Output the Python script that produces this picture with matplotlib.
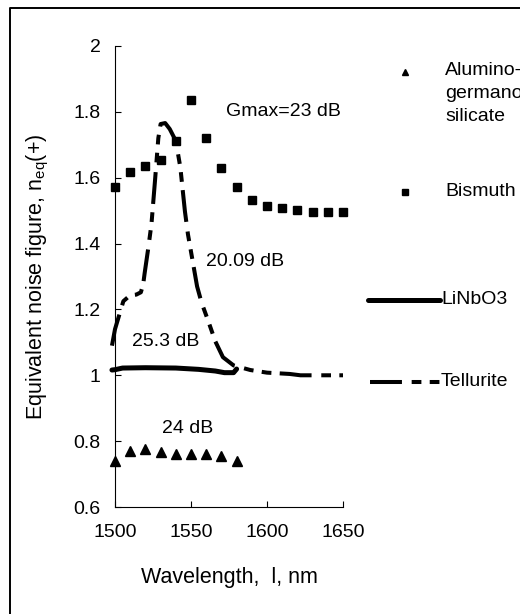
import matplotlib
matplotlib.use("Agg")
from matplotlib import pyplot as plt
from matplotlib.lines import Line2D
import numpy as np

plt.rcParams['font.family'] = ['Liberation Sans', 'DejaVu Sans']
plt.rcParams['mathtext.fontset'] = 'custom'
plt.rcParams['mathtext.rm'] = 'Liberation Sans'
plt.rcParams['lines.scale_dashes'] = False

# Alumino-germano-silicate (triangles)
alu_x = [1500, 1510, 1520, 1530, 1540, 1550, 1560, 1570, 1580]
alu_y = [0.741, 0.771, 0.777, 0.766, 0.760, 0.760, 0.760, 0.754, 0.741]

# Bismuth (squares)
bi_x = [1500, 1510, 1520, 1530, 1540, 1550, 1560, 1570, 1580, 1590,
        1600, 1610, 1620, 1630, 1640, 1650]
bi_y = [1.572, 1.617, 1.636, 1.653, 1.710, 1.837, 1.721, 1.629, 1.573, 1.531,
        1.514, 1.508, 1.501, 1.497, 1.497, 1.497]

# LiNbO3 (solid)
li_x = [1498, 1500, 1505, 1520, 1540, 1555, 1566, 1572, 1578, 1580]
li_y = [1.016, 1.017, 1.022, 1.023, 1.022, 1.018, 1.013, 1.008, 1.008, 1.019]

# Tellurite (dash-dot-dot)
te_x = [1498, 1500, 1505.5, 1510, 1514, 1517, 1518.5, 1519.5, 1522, 1524,
        1526.3, 1528.5, 1530, 1533, 1536, 1540, 1543, 1546, 1548, 1551.5,
        1554, 1557, 1561.4, 1566, 1571, 1578, 1589, 1600, 1615, 1622, 1650]
te_y = [1.09, 1.14, 1.225, 1.243, 1.245, 1.252, 1.275, 1.31, 1.39, 1.46,
        1.59, 1.72, 1.763, 1.766, 1.748, 1.712, 1.631, 1.498, 1.428, 1.336,
        1.27, 1.22, 1.164, 1.103, 1.055, 1.03, 1.016, 1.008, 1.004, 1.0, 1.0]

notes = ['Gmax=23 dB', '20.09 dB', '25.3 dB', '24 dB']
note_x = [1573, 1560, 1511, 1531]
note_y = [1.80, 1.346, 1.103, 0.838]

W, H = 520, 614
fig = plt.figure(figsize=(W / 100, H / 100), dpi=100)
ax = fig.add_axes([115 / W, 1 - 507 / H, 228 / W, 461 / H])

te_dash = (0, (23, 7, 7, 6, 7, 6))
ax.plot(te_x, te_y, color='k', lw=2.9, linestyle=te_dash, clip_on=False)
ax.plot(li_x, li_y, color='k', lw=3.6, solid_capstyle='round', clip_on=False)
ax.plot(bi_x, bi_y, 's', color='k', ms=5.5, clip_on=False)
ax.plot(alu_x, alu_y, '^', color='k', ms=6.5, clip_on=False)

for t, x, y in zip(notes, note_x, note_y):
    ax.text(x, y, t, fontsize=14, ha='left', va='center')

ax.set_xlim(1500, 1650)
ax.set_ylim(0.6, 2.0)
ax.set_xticks([1500, 1550, 1600, 1650])
ax.set_yticks([0.6, 0.8, 1.0, 1.2, 1.4, 1.6, 1.8, 2.0])
ax.set_yticklabels(['0.6', '0.8', '1', '1.2', '1.4', '1.6', '1.8', '2'])
ax.spines['top'].set_visible(False)
ax.spines['right'].set_visible(False)
for s in ('left', 'bottom'):
    ax.spines[s].set_linewidth(0.8)
ax.tick_params(axis='both', direction='in', length=4, width=0.8, labelsize=14)
ax.tick_params(axis='y', pad=10.5)
ax.tick_params(axis='x', pad=12)

ax.set_xlabel('Wavelength,  l, nm', fontsize=15.5)
ax.xaxis.set_label_coords(0.5, -0.152)
ax.xaxis.label.set_va('center')
ax.set_ylabel(r'Equivalent noise figure, n$_{\mathrm{eq}}$(+)', fontsize=15.5)
ax.yaxis.set_label_coords(-0.34, 0.5)
ax.yaxis.label.set_va('center')

# legend, drawn at the right of the plot
def fx(px):
    return px / W

def fy(py):
    return 1 - py / H

fig.add_artist(Line2D([fx(405)], [fy(72)], marker='^', color='k', ms=5,
                      linestyle='none', transform=fig.transFigure))
fig.text(fx(445), fy(72), 'Alumino-\ngermano-\nsilicate', fontsize=14,
         ha='left', va='top', linespacing=1.45,
         transform=fig.transFigure).set_y(fy(62))
fig.add_artist(Line2D([fx(405)], [fy(192)], marker='s', color='k', ms=4.5,
                      linestyle='none', transform=fig.transFigure))
fig.text(fx(445), fy(192), 'Bismuth', fontsize=14, ha='left', va='center')
fig.add_artist(Line2D([fx(368), fx(440)], [fy(300), fy(300)], color='k', lw=3.6,
                      solid_capstyle='round', transform=fig.transFigure))
fig.text(fx(441), fy(300), 'LiNbO3', fontsize=14, ha='left', va='center')
fig.add_artist(Line2D([fx(370), fx(440)], [fy(382), fy(382)], color='k', lw=2.9,
                      linestyle=(0, (23, 7, 7, 6, 7, 6)), transform=fig.transFigure))
fig.text(fx(441), fy(382), 'Tellurite', fontsize=14, ha='left', va='center')

# frame around the figure (left and top edges visible)
fig.add_artist(Line2D([fx(9.5), fx(9.5), fx(W + 5)], [fy(H + 5), fy(8), fy(8)],
                      color='k', lw=1.4, transform=fig.transFigure))

fig.savefig('out.png', dpi=100)
